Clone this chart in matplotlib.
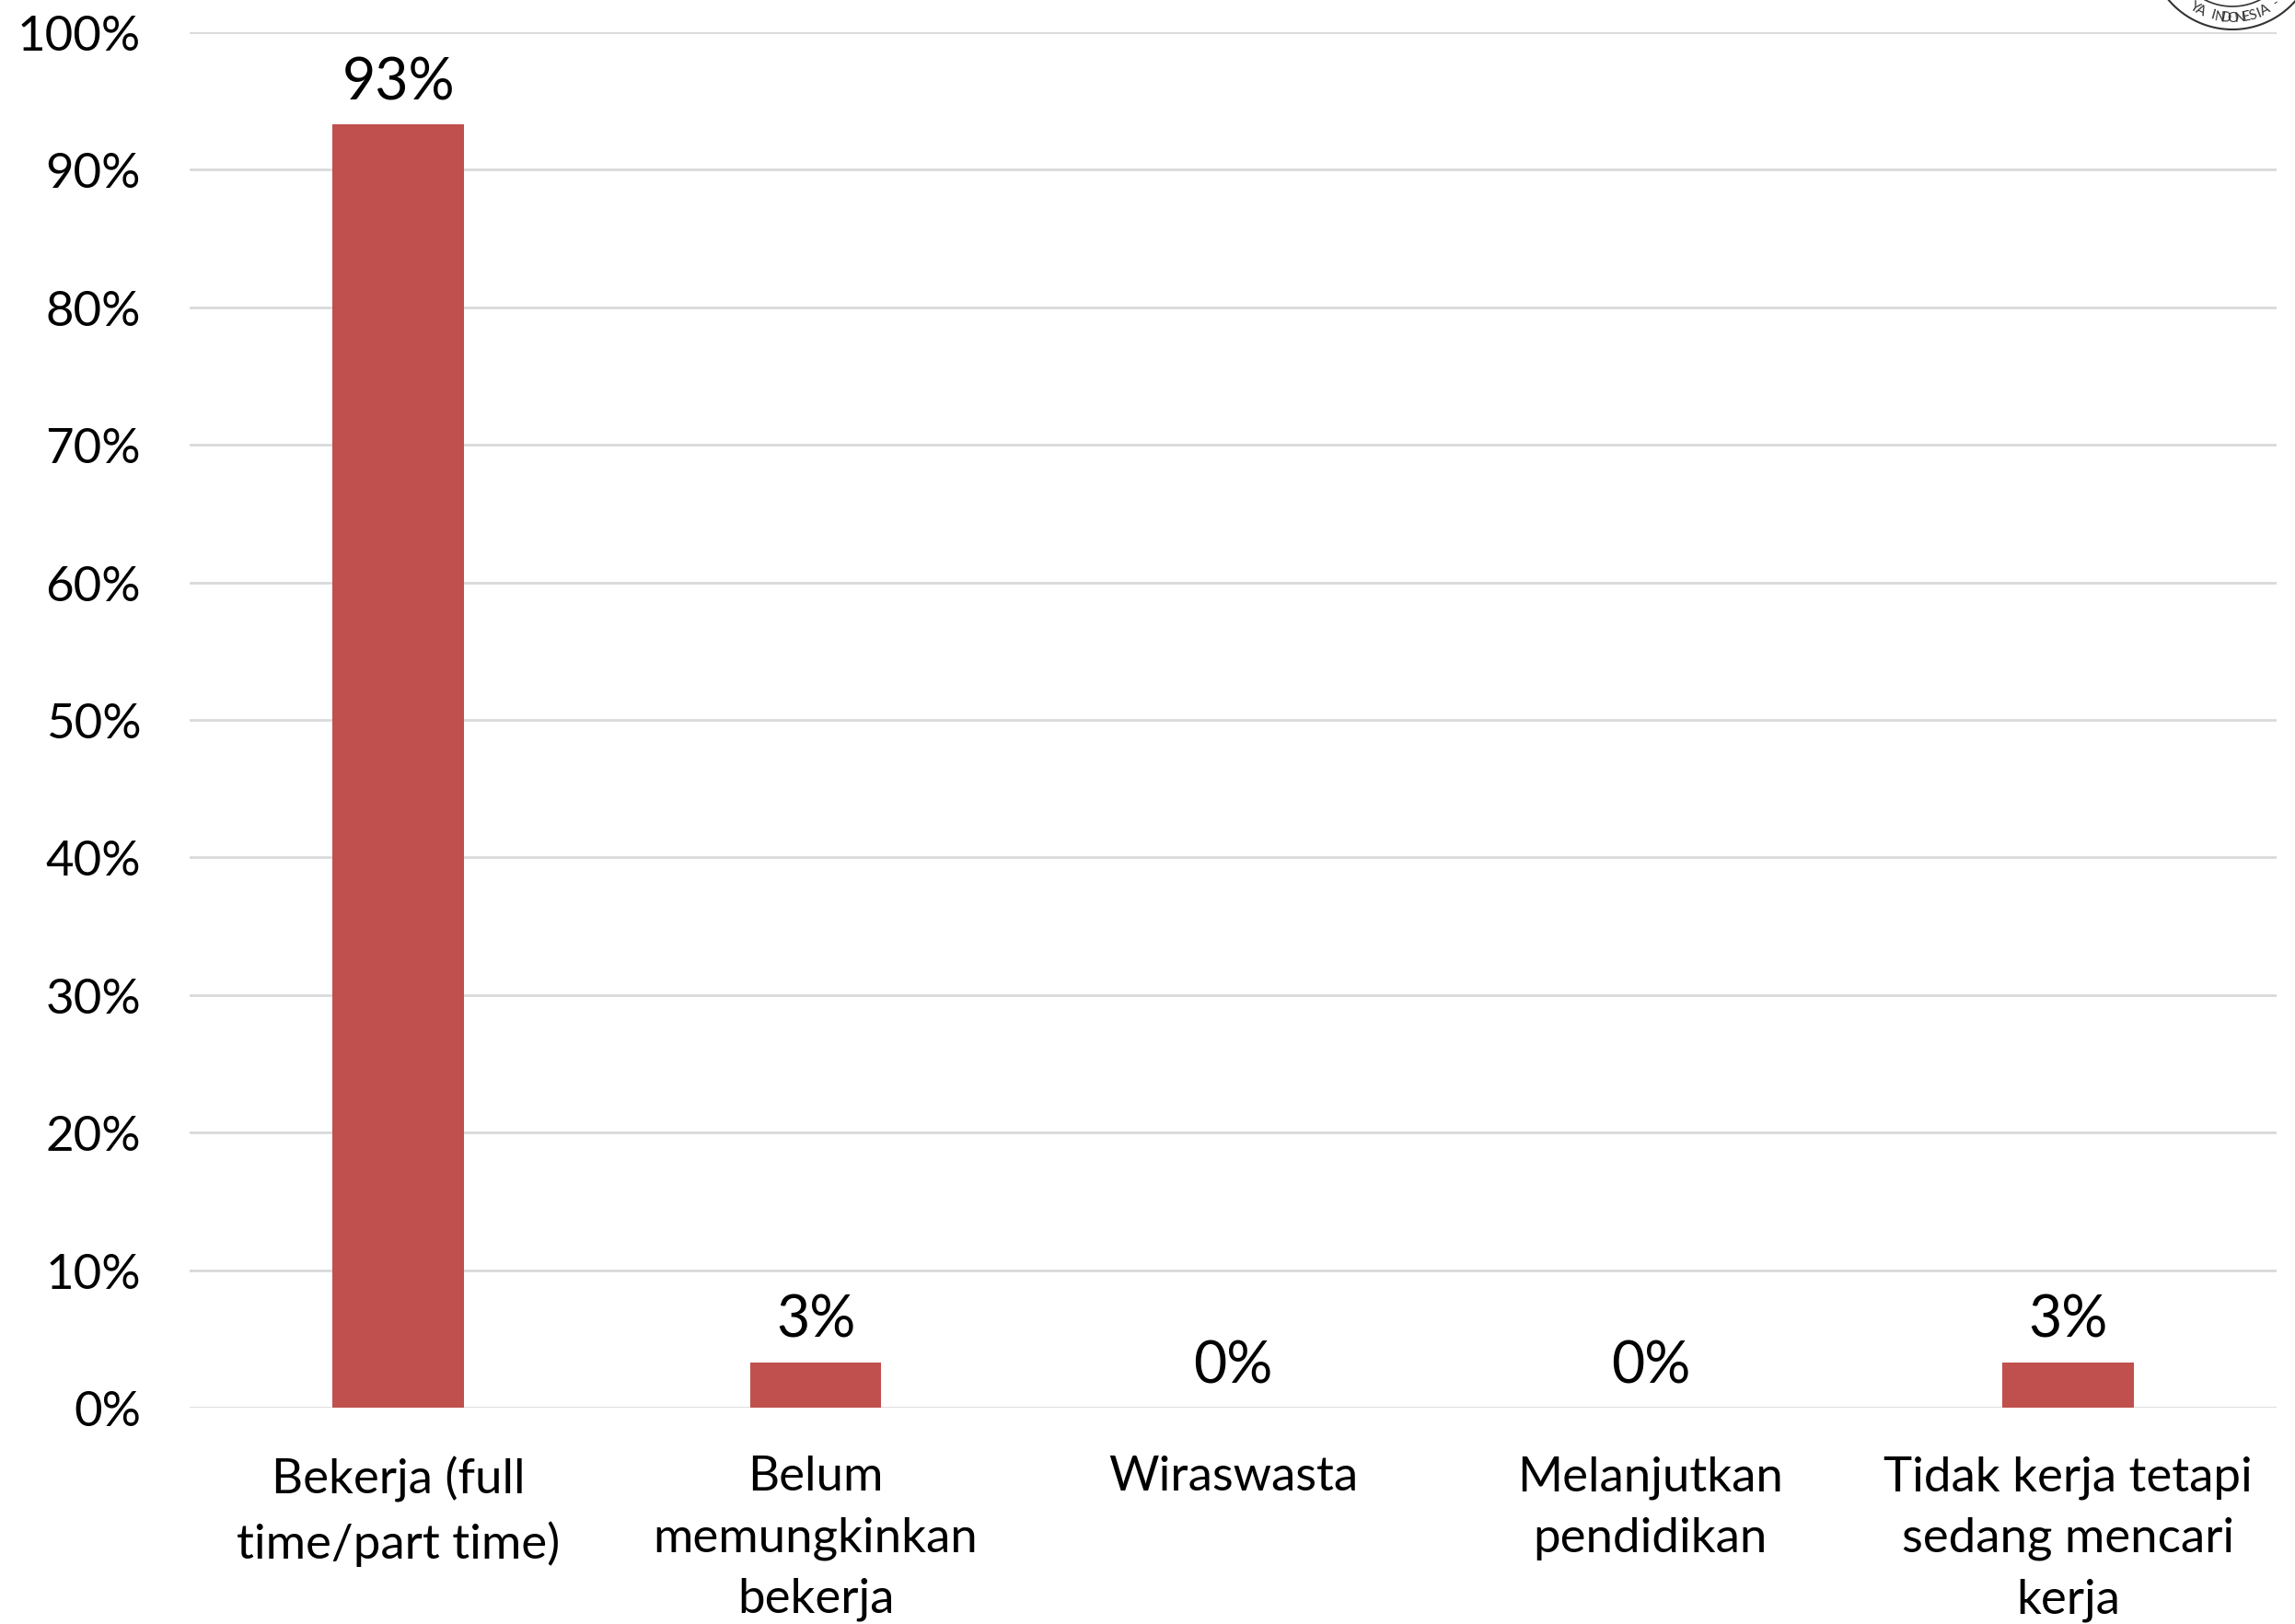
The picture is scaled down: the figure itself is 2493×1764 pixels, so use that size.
import numpy as np
import matplotlib
matplotlib.use('Agg')
import matplotlib.pyplot as plt
from matplotlib.ticker import PercentFormatter, MultipleLocator

# Data
categories = ['Bekerja (full\ntime/part time)', 'Belum\nmemungkinkan\nbekerja',
              'Wiraswasta', 'Melanjutkan\npendidikan',
              'Tidak kerja tetapi\nsedang mencari\nkerja']
values = [0.933, 0.033, 0.0, 0.0, 0.033]
value_labels = ['93%', '3%', '0%', '0%', '3%']

bar_color = '#c0504d'
grid_color = '#d9d9d9'

plt.rcParams['font.family'] = ['Lato', 'DejaVu Sans']

fig = plt.figure(figsize=(24.93, 17.65), dpi=100)
ax = fig.add_axes([0.0826, 0.1331, 0.9094, 0.8465])

x = np.arange(len(categories))
ax.bar(x, values, width=0.315, color=bar_color, zorder=3)

for xi, v, lab in zip(x, values, value_labels):
    ax.annotate(lab, (xi, v), xytext=(0, 20), textcoords='offset points',
                ha='center', va='baseline', fontsize=45)

ax.set_xlim(-0.5, len(categories) - 0.5)
ax.set_ylim(0, 1)
ax.yaxis.set_major_locator(MultipleLocator(0.1))
ax.yaxis.set_major_formatter(PercentFormatter(1.0, decimals=0))
ax.set_xticks(x)
ax.set_xticklabels(categories, fontsize=38, linespacing=1.5)
ax.tick_params(axis='y', length=0, pad=38, labelsize=38)
ax.tick_params(axis='x', length=0, pad=37)
ax.grid(axis='y', color=grid_color, linewidth=2, zorder=0)
for s in ax.spines.values():
    s.set_visible(False)

# partial seal in the top right corner
ov = fig.add_axes([0, 0, 1, 1], zorder=-1)
ov.set_xlim(0, 2493)
ov.set_ylim(1765, 0)
ov.axis('off')
cx, cy = 2425, -58
t = np.linspace(0, 2 * np.pi, 400)
ov.plot(cx + 91 * np.cos(t), cy + 91 * np.sin(t), color='#333333', lw=1.5)
ov.plot(cx + 66 * np.cos(t), cy + 66 * np.sin(t), color='#333333', lw=1.2)
seal_text = 'YA INDONESIA -'
angles = np.linspace(-32, 38, len(seal_text))
for ch, a in zip(seal_text, angles):
    r = np.radians(a)
    ov.text(cx + 78 * np.sin(r), cy + 78 * np.cos(r), ch, rotation=a,
            ha='center', va='center', fontsize=11, color='#333333')

fig.savefig('out.png', dpi=100)
